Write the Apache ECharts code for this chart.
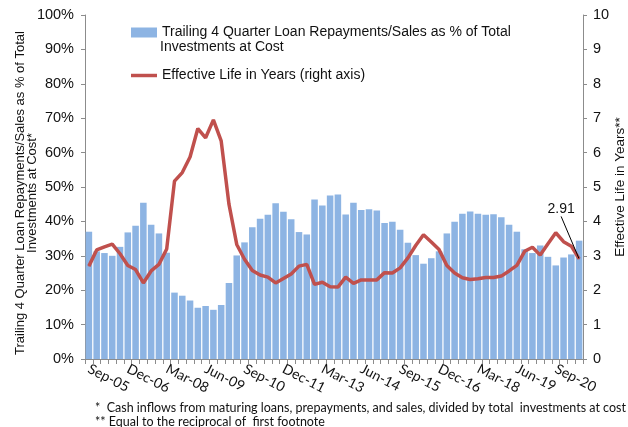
<!DOCTYPE html>
<html>
<head>
<meta charset="utf-8">
<script src="https://cdn.jsdelivr.net/npm/echarts@6/dist/echarts.min.js"></script>
<style>
  html, body { margin: 0; padding: 0; background: #fff; }
  #container { width: 628px; height: 427px; }
</style>
</head>
<body>
<div id="container"></div>
<script>
var quarters = ['Sep-05','Dec-05','Mar-06','Jun-06','Sep-06','Dec-06','Mar-07','Jun-07','Sep-07','Dec-07',
  'Mar-08','Jun-08','Sep-08','Dec-08','Mar-09','Jun-09','Sep-09','Dec-09','Mar-10','Jun-10',
  'Sep-10','Dec-10','Mar-11','Jun-11','Sep-11','Dec-11','Mar-12','Jun-12','Sep-12','Dec-12',
  'Mar-13','Jun-13','Sep-13','Dec-13','Mar-14','Jun-14','Sep-14','Dec-14','Mar-15','Jun-15',
  'Sep-15','Dec-15','Mar-16','Jun-16','Sep-16','Dec-16','Mar-17','Jun-17','Sep-17','Dec-17',
  'Mar-18','Jun-18','Sep-18','Dec-18','Mar-19','Jun-19','Sep-19','Dec-19','Mar-20','Jun-20',
  'Sep-20','Dec-20','Mar-21','Jun-21'];

// trailing 4 quarter repayments / sales, % of total investments at cost
var repayPct = [37.0, 31.3, 30.8, 30.0, 32.6, 36.8, 38.7, 45.4, 39.0, 36.5,
  30.9, 19.3, 18.4, 17.0, 14.9, 15.4, 14.3, 15.7, 22.1, 30.1,
  33.9, 38.3, 40.8, 41.9, 45.3, 42.8, 40.6, 36.9, 36.2, 46.4,
  44.6, 47.5, 47.8, 42.0, 45.4, 43.3, 43.5, 43.2, 39.5, 39.9,
  37.6, 33.8, 30.2, 27.7, 29.3, 31.3, 36.5, 39.9, 42.2, 42.9,
  42.2, 41.9, 42.1, 41.2, 39.0, 37.0, 31.9, 30.8, 33.0, 29.7,
  27.2, 29.5, 30.4, 34.4];

// effective life in years (right axis)
var lifeYears = [2.70, 3.17, 3.26, 3.34, 3.06, 2.72, 2.60, 2.21, 2.56, 2.75,
  3.20, 5.17, 5.42, 5.87, 6.70, 6.43, 6.95, 6.34, 4.50, 3.33,
  2.90, 2.57, 2.44, 2.38, 2.21, 2.34, 2.47, 2.70, 2.75, 2.17,
  2.23, 2.10, 2.09, 2.38, 2.20, 2.30, 2.30, 2.30, 2.51, 2.50,
  2.65, 2.94, 3.30, 3.61, 3.40, 3.18, 2.72, 2.50, 2.36, 2.31,
  2.33, 2.37, 2.37, 2.41, 2.56, 2.72, 3.13, 3.25, 3.02, 3.35,
  3.67, 3.41, 3.28, 2.91];

var barName = 'Trailing 4 Quarter Loan Repayments/Sales as % of Total';
var barName2 = 'Investments at Cost';
var lineName = 'Effective Life in Years (right axis)';

var dom = document.getElementById('container');
var myChart = echarts.init(dom, null, { renderer: 'canvas' });

var lastIdx = lifeYears.length - 1;
var lineData = lifeYears.map(function (v, i) {
  if (i === lastIdx) {
    return { value: v, label: { show: true } };
  }
  return v;
});

var option = {
  animation: false,
  textStyle: { fontFamily: 'Liberation Sans, Arial, sans-serif' },
  grid: { left: 85, right: 45, top: 15, bottom: 68, outerBoundsMode: 'none' },
  legend: {
    orient: 'vertical',
    left: 131,
    top: 24,
    padding: 0,
    itemGap: 26,
    itemWidth: 26,
    itemHeight: 10,
    itemTextGap: 3,
    textStyle: { fontSize: 14, color: '#111', lineHeight: 17 },
    data: [
      { name: barName, icon: 'rect' },
      { name: lineName, icon: 'path://M0,0 L30,0 L30,4 L0,4 Z' }
    ]
  },
  xAxis: {
    type: 'category',
    data: quarters,
    axisLine: { lineStyle: { color: '#8c8c8c', width: 1 } },
    axisTick: { show: true, interval: 0, length: 5, lineStyle: { color: '#8c8c8c' } },
    axisLabel: {
      interval: 4,
      rotate: -27,
      margin: 9,
      fontSize: 14,
      color: '#111',
      fontFamily: 'Lato, Open Sans, sans-serif'
    }
  },
  yAxis: [
    {
      type: 'value',
      min: 0,
      max: 100,
      interval: 10,
      name: 'Trailing 4 Quarter Loan Repayments/Sales as % of Total\nInvestments at Cost*',
      nameLocation: 'middle',
      nameGap: 47,
      nameRotate: 90,
      nameMoveOverlap: false,
      nameTextStyle: { fontSize: 13, color: '#111', lineHeight: 12, padding: [0, 12, 0, 0] },
      axisLine: { show: true, lineStyle: { color: '#8c8c8c' } },
      axisTick: { show: true, length: 4, lineStyle: { color: '#8c8c8c' } },
      splitLine: { show: false },
      axisLabel: { formatter: '{value}%', fontSize: 14.5, color: '#111', margin: 11 }
    },
    {
      type: 'value',
      min: 0,
      max: 10,
      interval: 1,
      name: 'Effective Life in Years**',
      nameLocation: 'middle',
      nameGap: 30,
      nameRotate: 90,
      nameMoveOverlap: false,
      nameTextStyle: { fontSize: 13.5, color: '#111' },
      axisLine: { show: true, lineStyle: { color: '#8c8c8c' } },
      axisTick: { show: true, length: 4, lineStyle: { color: '#8c8c8c' } },
      splitLine: { show: false },
      axisLabel: { fontSize: 14.5, color: '#111', margin: 10 }
    }
  ],
  series: [
    {
      name: barName,
      type: 'bar',
      yAxisIndex: 0,
      data: repayPct,
      barCategoryGap: '16%',
      itemStyle: { color: '#8DB4E3' }
    },
    {
      name: lineName,
      type: 'line',
      yAxisIndex: 1,
      data: lineData,
      symbol: 'circle',
      symbolSize: 1,
      showSymbol: true,
      showAllSymbol: true,
      smooth: false,
      lineStyle: { color: '#C0504D', width: 3.5 },
      itemStyle: { color: '#C0504D' },
      label: {
        show: false,
        position: 'top',
        fontSize: 14,
        color: '#111',
        formatter: function (p) { return p.value.toFixed(2); }
      },
      labelLine: { show: true, lineStyle: { color: '#000', width: 1 }, smooth: false },
      labelLayout: function (params) {
        if (params.dataIndex === lastIdx) {
          return { dx: -18, dy: -37 };
        }
      },
      z: 3
    }
  ],
  graphic: [
    {
      type: 'text',
      left: 160,
      top: 40,
      style: { text: barName2, fontSize: 14, fill: '#111', fontFamily: 'Liberation Sans, Arial, sans-serif' }
    },
    {
      type: 'text',
      left: 95,
      top: 401,
      style: {
        text: '*  Cash inflows from maturing loans, prepayments, and sales, divided by total  investments at cost',
        fontSize: 12.5,
        fill: '#111',
        fontFamily: 'Lato, sans-serif'
      }
    },
    {
      type: 'text',
      left: 95,
      top: 415,
      style: {
        text: '** Equal to the reciprocal of  first footnote',
        fontSize: 12.5,
        fill: '#111',
        fontFamily: 'Lato, sans-serif'
      }
    }
  ]
};

if (option && typeof option === 'object') {
  myChart.setOption(option, true);
}
</script>
</body>
</html>
